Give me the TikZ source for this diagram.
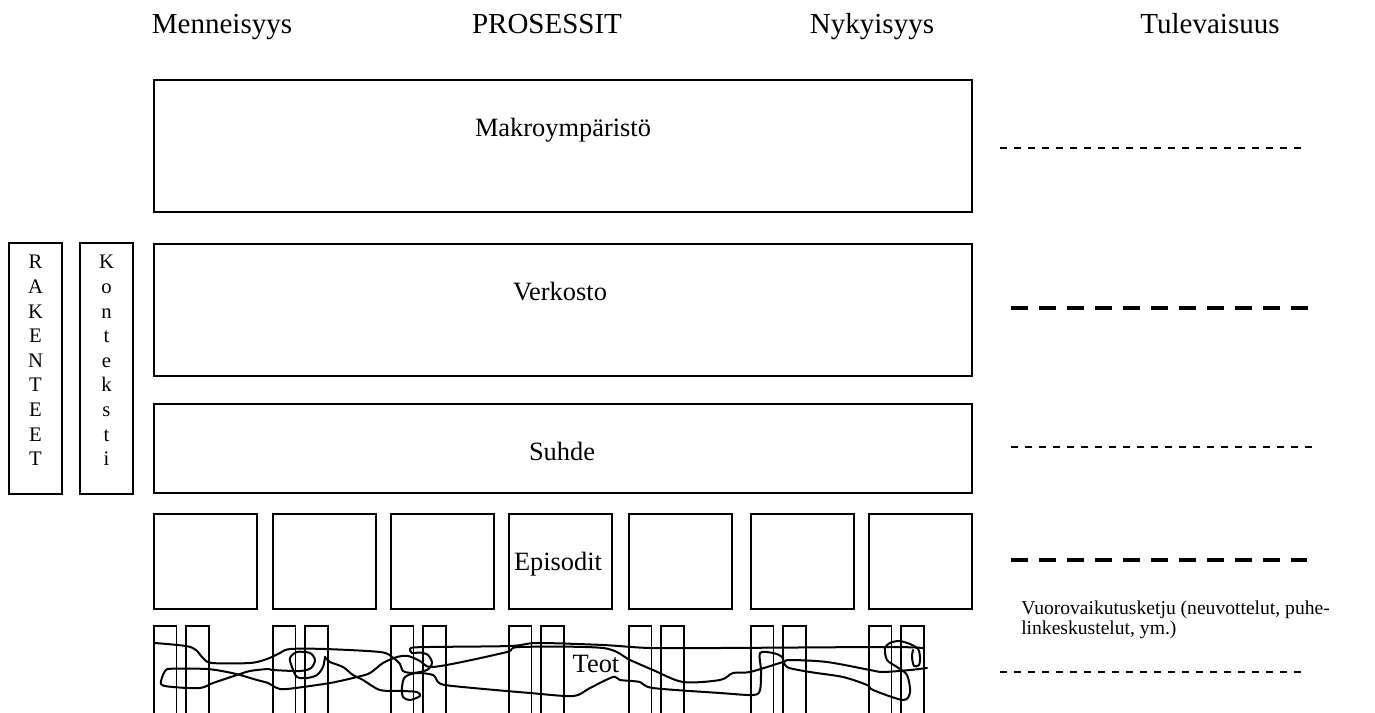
\documentclass[tikz,border=0pt]{standalone}
\usepackage{fontspec}
\setmainfont{Liberation Serif}
\begin{document}
\begin{tikzpicture}[x=0.75pt,y=-0.75pt,
  box/.style={draw,line width=1.4pt},
  hdr/.style={font=\fontsize{21.75}{24}\selectfont,inner sep=0pt,anchor=base},
  lbl/.style={font=\fontsize{19.8}{22}\selectfont,inner sep=0pt,anchor=base},
  vlet/.style={font=\fontsize{15.5}{18.45}\selectfont,inner sep=0pt,align=center},
  scrib/.style={line width=1.5pt,line join=round,line cap=round},
  thindash/.style={line width=1.5pt,dash pattern=on 5.5pt off 5pt},
  thickdash/.style={line width=3.4pt,dash pattern=on 12.5pt off 8.5pt}]
\useasboundingbox (0,0) rectangle (1375,713);
% headers
\node[hdr] (h1) at (222,34) {Menneisyys};
\node[hdr] (h2) at (547,34) {PROSESSIT};
\node[hdr] (h3) at (872,34) {Nykyisyys};
\node[hdr] (h4) at (1210,34) {Tulevaisuus};
% main boxes
\draw[box] (154,80) rectangle (972,212);
\node[lbl] (makro) at (563,137) {Makroympäristö};
\draw[box] (154,244) rectangle (972,376);
\node[lbl] (verk) at (560,300) {Verkosto};
\draw[box] (154,404) rectangle (972,493);
\node[lbl] (suhde) at (562,460) {Suhde};
% side boxes
\draw[box] (9,243) rectangle (62,494);
\draw[box] (80,243) rectangle (133,494);
\foreach \l [count=\i from 0] in {R,A,K,E,N,T,E,E,T}
  \node[vlet] (r\i) at (35.5,264+24.6*\i) {\strut\l};
\foreach \l [count=\i from 0] in {K,o,n,t,e,k,s,t,i}
  \node[vlet] (k\i) at (106.5,264+24.6*\i) {\strut\l};
% episodes
\foreach \x in {154,273,391,509,629,751,869}{
  \draw[box] (\x,514) rectangle (\x+103,609);
  \draw[box] (\x,626) rectangle (\x+22.5,714);
  \draw[box] (\x+32,626) rectangle (\x+55,714);
}
\node[lbl] (epi) at (558,570) {Episodit};
% scribbles
\draw[scrib] plot[smooth,tension=0.5] coordinates {
 (155,643) (186,646) (196,650) (203,658) (212,663) (250,663) (267,659) (280,653)
 (290,649) (325,649) (380,652) (392,657) (400,664) (403,671) (413,673) (427,670)
 (432,663) (428,655) (420,652.5) (412,653) (411,648) (430,647) (510,646) (537,643)
 (603,645) (650,648) (720,648) (887,647) (923,648)};
\draw[scrib] plot[smooth,tension=0.5] coordinates {
 (325,657) (323,667) (317,675) (307,678) (297,677) (292,667) (290,658) (297,652)
 (310,653) (315,660) (311,668) (300,671) (273,670) (268,669) (250,671) (237,675)
 (213,683) (200,688) (173,687) (161,684) (165,671) (172,668.7) (207,669) (227,672)
 (240,675) (257,680) (268,683) (277,688) (287,689) (330,683) (357,677) (370,673)
 (383,663) (397,657) (408,656) (420,661) (430,667) (457,663) (507,652) (520,647)
 (603,648) (630,660) (653,670) (683,682) (720,680) (733,673) (750,672) (783,662)
 (790,660) (827,662) (870,670) (883,672) (910,670) (927,668)};
\draw[scrib] plot[smooth,tension=0.5] coordinates {
 (325,657) (330,662) (343,667) (353,675) (363,680) (380,690) (402,691) (417,692)
 (420,696) (410,700) (403,697) (402,687) (405,677) (417,673) (433,675) (438,682)
 (445,685) (473,688) (530,693) (573,696) (590,688) (613,677) (620,680) (640,682)
 (653,688) (720,693) (753,695) (760,690) (761,670) (760,653) (773,653) (782,657)
 (787,667) (810,672) (843,677) (867,685) (873,690) (903,700) (910,692) (907,675)
 (897,667) (887,660) (885,648) (890,643) (899,641) (910,644) (918,649) (920,657)
 (919,665) (914,666) (912,657) (913,650)};
\node[lbl] (teot) at (596,672) {Teot};
% future dashes
\coordinate (d1a) at (1000,148); \coordinate (d1b) at (1303,148);
\coordinate (d2a) at (1011,308); \coordinate (d2b) at (1308,308);
\coordinate (d3a) at (1011,447); \coordinate (d3b) at (1312,447);
\coordinate (d4a) at (1011,560); \coordinate (d4b) at (1307,560);
\coordinate (d5a) at (1000,672); \coordinate (d5b) at (1303,672);
\draw[thindash] (d1a) -- (d1b);
\draw[thickdash] (d2a) -- (d2b);
\draw[thindash] (d3a) -- (d3b);
\draw[thickdash] (d4a) -- (d4b);
\draw[thindash] (d5a) -- (d5b);
\node[anchor=north west,inner sep=0pt,align=left,font=\fontsize{14.7}{14.8}\selectfont] (vuoro) at (1021,601)
 {Vuorovaikutusketju (neuvottelut, puhe-\\linkeskustelut, ym.)};
\end{tikzpicture}
\end{document}
